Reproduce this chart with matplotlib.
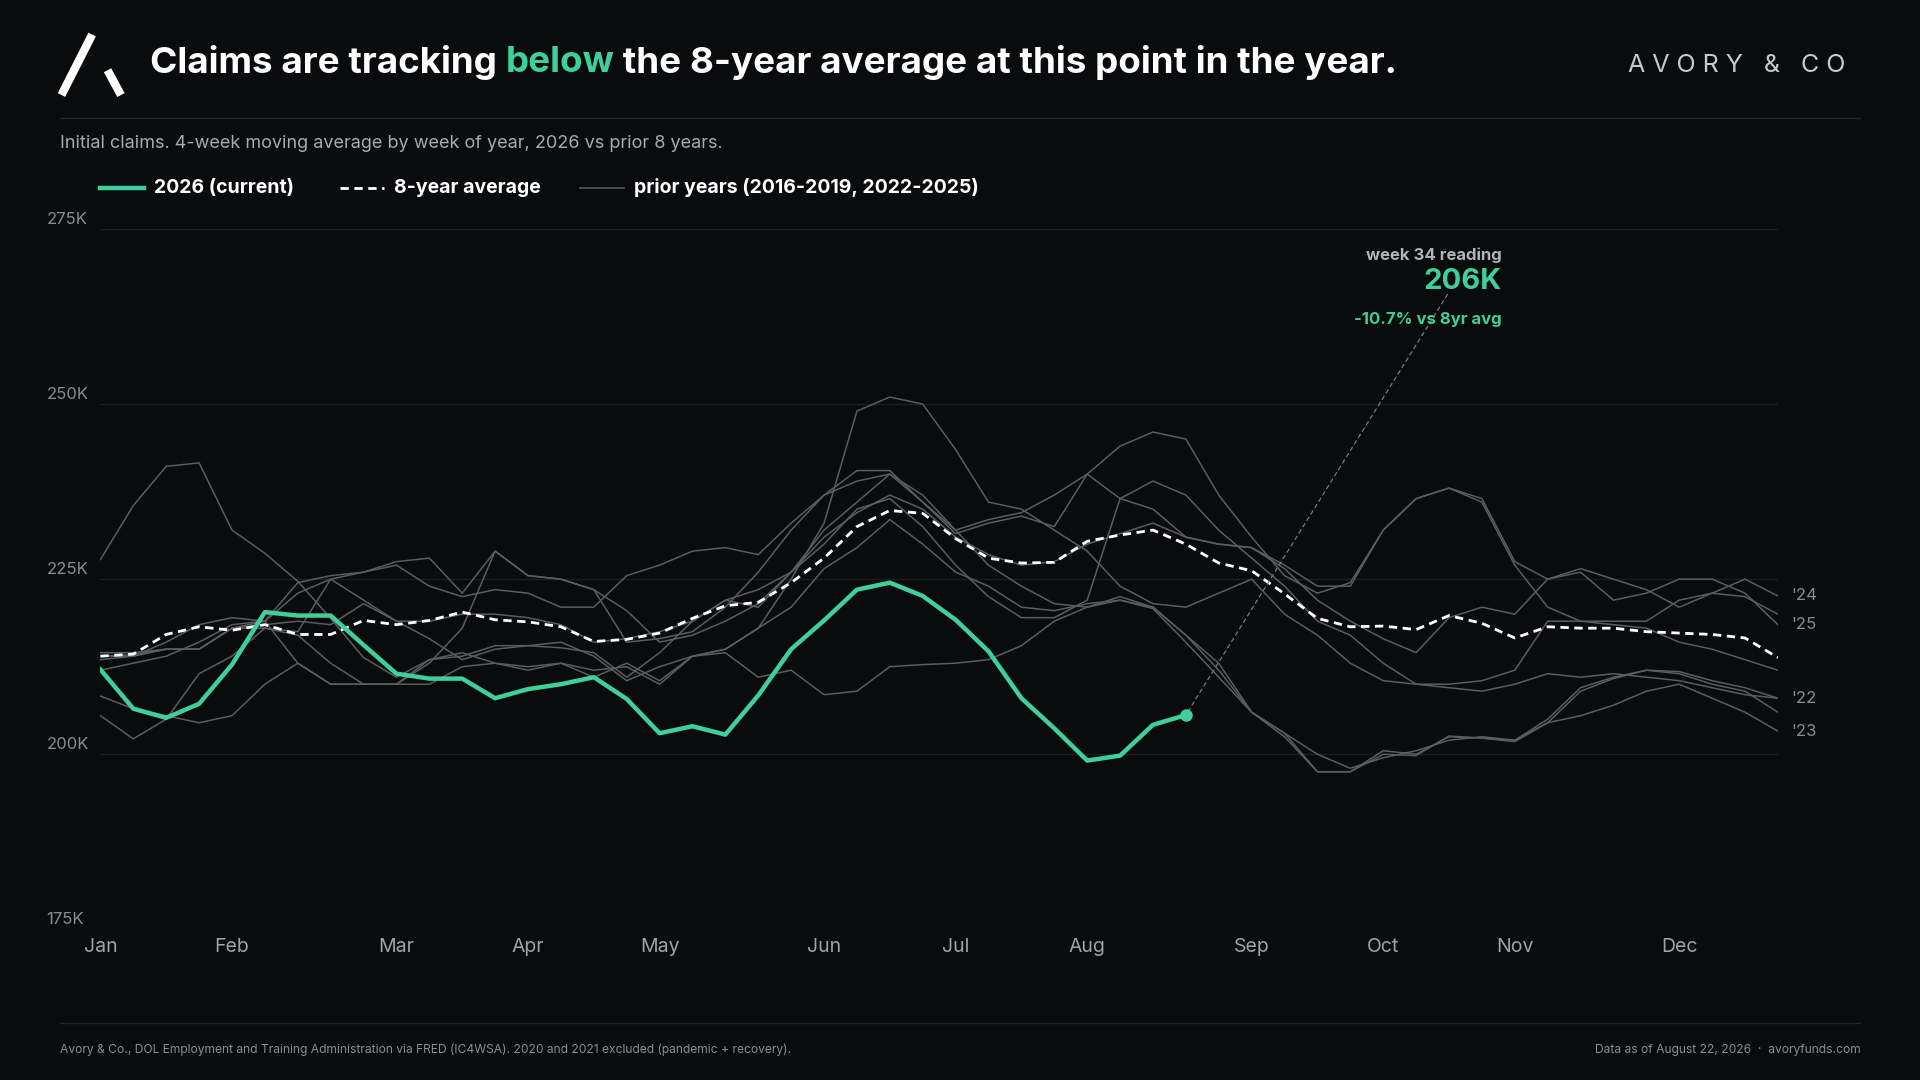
import numpy as np
import matplotlib.pyplot as plt
from matplotlib.lines import Line2D

BG = '#0a0b0d'
GREEN = '#3ecf9b'
GREY = '#5a5c60'

weeks = np.arange(1, 53)

cur_2026 = [212.1, 206.5, 205.2, 207.2, 212.8, 220.3, 219.8, 219.8, 215.6, 211.5,
            210.8, 210.8, 208.0, 209.3, 210.0, 211.0, 207.9, 203.0, 204.0, 202.8,
            208.4, 215.0, 219.1, 223.5, 224.5, 222.6, 219.2, 214.7, 208.0, 203.7,
            199.1, 199.8, 204.2, 205.6]

avg_8yr = [214.0, 214.3, 217.1, 218.2, 217.7, 218.5, 217.1, 217.1, 219.1, 218.5,
           219.1, 220.3, 219.2, 218.9, 218.2, 216.1, 216.4, 217.3, 219.4, 221.2,
           221.7, 224.5, 228.0, 232.5, 234.8, 234.4, 230.8, 228.0, 227.3, 227.4,
           230.4, 231.3, 232.0, 230.0, 227.3, 226.2, 222.9, 219.4, 218.2, 218.3,
           217.8, 219.8, 218.7, 216.6, 218.2, 218.0, 218.0, 217.5, 217.3, 217.1,
           216.6, 213.8]

prior = {
    '2016': [227.8, 235.5, 241.1, 241.6, 232.0, 228.7, 224.7, 219.4, 213.8, 211.0,
             213.5, 214.0, 215.5, 215.5, 215.2, 214.5, 211.0, 214.5, 219.0, 222.0,
             221.0, 226.0, 232.0, 236.0, 240.0, 237.0, 232.0, 227.0, 224.0, 221.5,
             221.0, 222.5, 221.0, 217.0, 213.0, 206.0, 203.0, 197.5, 197.5, 200.5,
             200.0, 202.5, 202.3, 202.0, 205.0, 209.5, 211.0, 212.0, 211.8, 210.5,
             209.5, 208.0],
    '2017': [205.5, 202.2, 205.0, 211.5, 214.0, 218.0, 217.0, 213.0, 210.0, 210.0,
             210.0, 212.5, 213.0, 212.0, 213.0, 211.0, 213.0, 210.5, 214.0, 214.5,
             211.0, 212.0, 208.5, 209.0, 212.5, 212.8, 213.0, 213.5, 215.5, 219.0,
             221.0, 222.0, 220.8, 216.0, 211.0, 206.0, 202.5, 197.5, 197.5, 200.0,
             199.8, 202.6, 202.3, 201.8, 204.5, 209.0, 210.8, 212.0, 211.5, 210.0,
             209.0, 206.0],
    '2018': [208.3, 206.5, 205.5, 204.5, 205.5, 210.0, 213.0, 210.0, 210.0, 210.0,
             213.5, 214.5, 213.0, 212.5, 213.0, 212.0, 212.5, 210.0, 214.0, 215.0,
             218.0, 225.0, 233.0, 249.0, 251.0, 250.0, 243.5, 236.0, 235.0, 232.0,
             229.0, 224.0, 221.5, 221.0, 223.0, 225.0, 220.0, 217.0, 213.0, 210.5,
             210.0, 210.0, 210.5, 212.0, 219.0, 219.0, 218.5, 218.0, 216.0, 215.0,
             213.5, 212.0],
    '2019': [214.0, 214.2, 215.0, 215.0, 218.0, 218.0, 217.5, 225.0, 226.0, 227.5,
             228.0, 223.0, 229.0, 225.5, 225.0, 223.5, 216.0, 216.5, 217.5, 221.0,
             226.0, 232.0, 237.0, 239.0, 240.0, 236.0, 232.0, 233.5, 234.5, 237.0,
             240.0, 236.5, 235.0, 231.0, 230.0, 229.5, 227.0, 224.0, 224.0, 232.0,
             236.5, 238.0, 236.0, 227.0, 221.0, 219.0, 219.0, 219.0, 222.0, 223.0,
             222.5, 220.0],
    '2022': [214.5, 214.5, 215.0, 215.0, 218.0, 219.0, 213.0, 210.0, 210.0, 210.0,
             213.0, 218.0, 229.0, 225.5, 225.0, 223.5, 220.5, 216.0, 217.0, 219.0,
             221.5, 226.0, 230.0, 235.0, 236.5, 232.5, 227.0, 222.5, 219.5, 219.5,
             222.0, 236.5, 239.0, 237.0, 232.0, 228.0, 224.0, 219.0, 217.0, 213.0,
             210.0, 209.5, 209.0, 210.0, 211.5, 211.0, 211.5, 211.0, 210.5, 209.5,
             208.5, 208.0],
    '2023': [212.0, 213.0, 214.0, 216.0, 218.5, 219.0, 223.0, 225.0, 222.0, 219.0,
             216.5, 213.5, 215.0, 215.5, 216.0, 214.0, 210.5, 212.5, 214.0, 215.0,
             218.0, 221.0, 226.5, 229.5, 233.5, 230.0, 226.0, 224.0, 221.0, 220.5,
             221.5, 222.0, 221.0, 217.0, 212.0, 206.0, 203.0, 200.0, 198.0, 199.5,
             200.5, 202.0, 202.5, 202.0, 204.5, 205.5, 207.0, 209.0, 210.0, 208.0,
             206.0, 203.3],
    '2024': [214.0, 214.0, 216.0, 218.5, 219.5, 219.0, 224.5, 225.5, 226.0, 227.0,
             224.0, 222.5, 223.5, 223.0, 221.0, 221.0, 225.5, 227.0, 229.0, 229.5,
             228.5, 233.0, 237.0, 240.5, 240.5, 236.0, 231.5, 233.0, 234.0, 232.5,
             240.0, 244.0, 246.0, 245.0, 237.0, 231.0, 225.5, 223.0, 224.5, 232.0,
             236.5, 238.0, 236.5, 227.5, 225.0, 226.5, 225.0, 223.5, 221.0, 223.0,
             225.0, 222.6],
    '2025': [213.5, 214.0, 215.0, 215.0, 218.0, 218.5, 219.0, 218.5, 221.5, 219.0,
             219.0, 220.0, 220.0, 219.5, 218.5, 216.0, 216.5, 217.5, 219.0, 222.0,
             223.5, 226.0, 231.0, 234.5, 237.0, 235.0, 231.0, 228.5, 227.0, 227.5,
             230.0, 231.5, 233.0, 231.0, 230.0, 229.5, 226.5, 222.0, 219.0, 216.5,
             214.5, 219.5, 221.0, 220.0, 225.0, 226.0, 222.0, 223.0, 225.0, 225.0,
             223.0, 218.5],
}
end_labels = {"'24": 2024, "'25": 2025, "'22": 2022, "'23": 2023}

month_names = ['Jan', 'Feb', 'Mar', 'Apr', 'May', 'Jun', 'Jul', 'Aug', 'Sep', 'Oct', 'Nov', 'Dec']
month_weeks = [1, 5, 10, 14, 18, 23, 27, 31, 36, 40, 44, 49]

plt.rcParams['font.family'] = ['Inter', 'DejaVu Sans']

fig = plt.figure(figsize=(19.2, 10.8), dpi=100, facecolor=BG)
ax = fig.add_axes([0.0523, 0.1395, 0.8737, 0.6485], facecolor=BG)

for yr, vals in prior.items():
    ax.plot(weeks, vals, color=GREY, lw=1.1, zorder=2)
ax.plot(weeks, avg_8yr, color='white', lw=2.0, ls=(0, (3, 2)), zorder=3)
cw = weeks[:len(cur_2026)]
ax.plot(cw, cur_2026, color=GREEN, lw=3.2, zorder=4, solid_joinstyle='round')
ax.plot(cw[-1], cur_2026[-1], 'o', color=GREEN, ms=8, zorder=5)

for lab, yr in end_labels.items():
    ax.text(52.4, prior[str(yr)][-1], lab, color='#8a8c90', fontsize=12, va='center', ha='left')

for v in [175, 200, 225, 250, 275]:
    ax.axhline(v, color='#1c1d21', lw=1, zorder=1)

ax.set_xlim(1, 52)
ax.set_ylim(175, 275)
ax.set_yticks([])
ax.set_xticks(month_weeks)
ax.set_xticklabels(month_names, color='#a0a2a6', fontsize=14)
ax.tick_params(axis='x', length=0, pad=6)
for s in ax.spines.values():
    s.set_visible(False)
for v in [175, 200, 225, 250, 275]:
    ax.text(-0.032, v + 0.3, f'{v}K', transform=ax.get_yaxis_transform(), color='#8a8c90',
            fontsize=12, ha='left', va='bottom')

# annotation
last_w, last_v = cw[-1], cur_2026[-1]
ax.annotate('', xy=(last_w, last_v), xytext=(42.0, 266),
            arrowprops=dict(arrowstyle='-', color='#77797d', lw=0.9, ls=(0, (3, 3))))
ax.text(43.6, 270.5, 'week 34 reading', color='#b0b2b6', fontsize=12, fontweight='bold', ha='right')
ax.text(43.6, 266.4, f'{round(last_v)}K', color=GREEN, fontsize=21, fontweight='bold', ha='right')
ax.text(43.6, 261.5, '-10.7% vs 8yr avg', color=GREEN, fontsize=12, fontweight='bold', ha='right')

# header
fig.add_artist(Line2D([0.032, 0.048], [0.912, 0.968], color='white', lw=6, solid_capstyle='butt'))
fig.add_artist(Line2D([0.056, 0.063], [0.935, 0.912], color='white', lw=6, solid_capstyle='butt'))
tx = 0.078
parts = [('Claims are tracking ', 'white'), ('below', GREEN),
         (' the 8-year average at this point in the year.', 'white')]
renderer = fig.canvas.get_renderer()
for txt, col in parts:
    t = fig.text(tx, 0.942, txt, color=col, fontsize=26.5, fontweight='bold', va='center')
    bb = t.get_window_extent(renderer=renderer)
    tx += bb.width / fig.bbox.width
fig.text(0.961, 0.939, 'A V O R Y   &   C O', color='#c8cacd', fontsize=18, ha='right', va='center')
fig.add_artist(Line2D([0.031, 0.969], [0.891, 0.891], color='#222327', lw=1))
fig.text(0.031, 0.867, 'Initial claims. 4-week moving average by week of year, 2026 vs prior 8 years.',
         color='#a8aaae', fontsize=13, va='center')

# legend
ly = 0.826
fig.add_artist(Line2D([0.052, 0.075], [ly, ly], color=GREEN, lw=3.2))
fig.text(0.080, ly, '2026 (current)', color='white', fontsize=14, fontweight='bold', va='center')
fig.add_artist(Line2D([0.177, 0.200], [ly, ly], color='white', lw=2, ls=(0, (3, 2))))
fig.text(0.205, ly, '8-year average', color='white', fontsize=14, fontweight='bold', va='center')
fig.add_artist(Line2D([0.302, 0.325], [ly, ly], color=GREY, lw=1.1))
fig.text(0.330, ly, 'prior years (2016-2019, 2022-2025)', color='white', fontsize=14,
         fontweight='bold', va='center')

# footer
fig.add_artist(Line2D([0.031, 0.969], [0.053, 0.053], color='#222327', lw=1))
fig.text(0.031, 0.028, 'Avory & Co., DOL Employment and Training Administration via FRED (IC4WSA). '
         '2020 and 2021 excluded (pandemic + recovery).', color='#8a8c90', fontsize=8.7, va='center')
fig.text(0.969, 0.028, 'Data as of August 22, 2026  \u00b7  avoryfunds.com', color='#8a8c90',
         fontsize=8.7, va='center', ha='right')

fig.savefig('out.png', dpi=100, facecolor=BG)
